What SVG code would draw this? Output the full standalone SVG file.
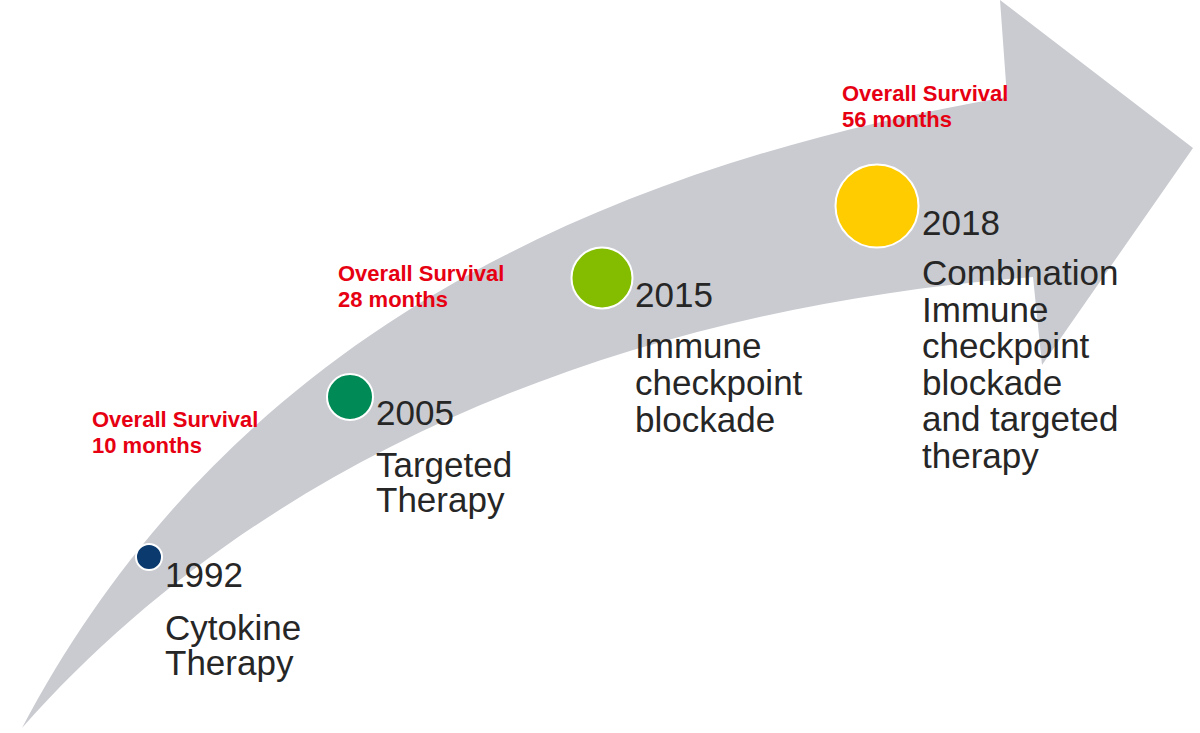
<svg xmlns="http://www.w3.org/2000/svg" width="1200" height="733" viewBox="0 0 1200 733">
<style>
.lbl{font-family:"Liberation Sans",Arial,sans-serif;font-size:35px;fill:#262626}
.os{font-family:"Liberation Sans",Arial,sans-serif;font-size:22px;font-weight:bold;fill:#e60012}
.dot{stroke:#ffffff;stroke-width:2}
</style>
<rect width="1200" height="733" fill="#ffffff"/>
<g id="arrow">
<path d="M22,728 C190,410 490,185 1007,97 L1000,0 L1193,148 L1042,365 L1033,277 C600,310 250,470 22,728 Z" fill="#c9cbd0"/>
</g>
<g id="connectors"></g>
<g id="os1"><text class="os" x="92" y="427">Overall Survival</text><text class="os" x="92" y="453">10 months</text></g>
<g id="os2"><text class="os" x="338" y="281">Overall Survival</text><text class="os" x="338" y="307">28 months</text></g>
<g id="os3"><text class="os" x="842" y="101">Overall Survival</text><text class="os" x="842" y="127">56 months</text></g>
<g id="n1992">
<circle class="dot" cx="149" cy="557" r="13" fill="#0b3a6e"/>
<text class="lbl" x="165" y="587">1992</text>
<text class="lbl" x="165" y="640">Cytokine</text>
<text class="lbl" x="165" y="675">Therapy</text>
</g>
<g id="n2005">
<circle class="dot" cx="350" cy="397" r="23" fill="#008a55"/>
<text class="lbl" x="376" y="425">2005</text>
<text class="lbl" x="376" y="477">Targeted</text>
<text class="lbl" x="376" y="512">Therapy</text>
</g>
<g id="n2015">
<circle class="dot" cx="602" cy="278" r="30.5" fill="#84bd00"/>
<text class="lbl" x="635" y="307">2015</text>
<text class="lbl" x="635" y="358">Immune</text>
<text class="lbl" x="635" y="395">checkpoint</text>
<text class="lbl" x="635" y="432">blockade</text>
</g>
<g id="n2018">
<circle class="dot" cx="877" cy="206" r="41.5" fill="#ffcc00"/>
<text class="lbl" x="922" y="235">2018</text>
<text class="lbl" x="922" y="285">Combination</text>
<text class="lbl" x="922" y="322">Immune</text>
<text class="lbl" x="922" y="358">checkpoint</text>
<text class="lbl" x="922" y="395">blockade</text>
<text class="lbl" x="922" y="431">and targeted</text>
<text class="lbl" x="922" y="468">therapy</text>
</g>
</svg>
